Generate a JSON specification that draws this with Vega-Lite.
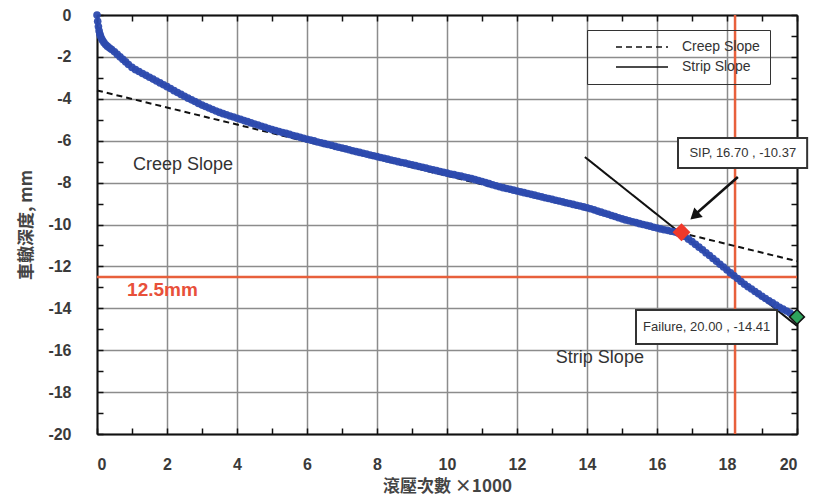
{
  "$schema": "https://vega.github.io/schema/vega-lite/v6.json",
  "width": 700,
  "height": 419,
  "autosize": "none",
  "padding": {"left": 97, "top": 15, "right": 17, "bottom": 62},
  "background": "white",
  "config": {
    "view": {"stroke": null},
    "axis": {
      "labelFont": "Liberation Sans",
      "labelFontWeight": "bold",
      "labelFontSize": 16,
      "labelColor": "#3a3a3a",
      "titleFont": "Noto Sans CJK TC",
      "titleFontWeight": "bold",
      "titleFontSize": 17,
      "titleColor": "#444444",
      "domainColor": "#111111",
      "domainWidth": 2,
      "tickColor": "#111111",
      "tickWidth": 1.5,
      "gridColor": "#8c8c8c",
      "gridWidth": 1.5
    }
  },
  "datasets": {
    "curve": [
      {"x":0,"y":0},{"x":0.02,"y":-0.3},{"x":0.04,"y":-0.55},{"x":0.06,"y":-0.75},{"x":0.08,"y":-0.9},{"x":0.1,"y":-1.0},{"x":0.13,"y":-1.12},{"x":0.16,"y":-1.22},{"x":0.2,"y":-1.32},{"x":0.25,"y":-1.42},{"x":0.3,"y":-1.5},{"x":0.36,"y":-1.58},{"x":0.42,"y":-1.65},{"x":0.5,"y":-1.76},{"x":0.58,"y":-1.88},{"x":0.66,"y":-2.0},{"x":0.74,"y":-2.12},{"x":0.82,"y":-2.24},{"x":0.9,"y":-2.36},{"x":1.0,"y":-2.5},
      {"x":1.1,"y":-2.61},{"x":1.2,"y":-2.7},{"x":1.3,"y":-2.79},{"x":1.4,"y":-2.88},{"x":1.5,"y":-2.97},{"x":1.6,"y":-3.06},{"x":1.7,"y":-3.15},{"x":1.8,"y":-3.24},{"x":1.9,"y":-3.33},{"x":2.0,"y":-3.42},
      {"x":2.1,"y":-3.51},{"x":2.2,"y":-3.61},{"x":2.3,"y":-3.7},{"x":2.4,"y":-3.79},{"x":2.5,"y":-3.88},{"x":2.6,"y":-3.97},{"x":2.7,"y":-4.05},{"x":2.8,"y":-4.13},{"x":2.9,"y":-4.22},{"x":3.0,"y":-4.3},
      {"x":3.1,"y":-4.37},{"x":3.2,"y":-4.44},{"x":3.3,"y":-4.51},{"x":3.4,"y":-4.58},{"x":3.5,"y":-4.65},{"x":3.6,"y":-4.71},{"x":3.7,"y":-4.76},{"x":3.8,"y":-4.82},{"x":3.9,"y":-4.87},{"x":4.0,"y":-4.93},
      {"x":4.1,"y":-4.98},{"x":4.2,"y":-5.04},{"x":4.3,"y":-5.09},{"x":4.4,"y":-5.15},{"x":4.5,"y":-5.2},{"x":4.6,"y":-5.25},{"x":4.7,"y":-5.31},{"x":4.8,"y":-5.36},{"x":4.9,"y":-5.42},{"x":5.0,"y":-5.47},
      {"x":5.1,"y":-5.51},{"x":5.2,"y":-5.56},{"x":5.3,"y":-5.61},{"x":5.4,"y":-5.65},{"x":5.5,"y":-5.7},{"x":5.6,"y":-5.75},{"x":5.7,"y":-5.79},{"x":5.8,"y":-5.84},{"x":5.9,"y":-5.88},{"x":6.0,"y":-5.93},
      {"x":6.1,"y":-5.97},{"x":6.2,"y":-6.01},{"x":6.3,"y":-6.06},{"x":6.4,"y":-6.1},{"x":6.5,"y":-6.14},{"x":6.6,"y":-6.18},{"x":6.7,"y":-6.22},{"x":6.8,"y":-6.27},{"x":6.9,"y":-6.31},{"x":7.0,"y":-6.35},
      {"x":7.1,"y":-6.39},{"x":7.2,"y":-6.43},{"x":7.3,"y":-6.48},{"x":7.4,"y":-6.52},{"x":7.5,"y":-6.56},{"x":7.6,"y":-6.6},{"x":7.7,"y":-6.64},{"x":7.8,"y":-6.68},{"x":7.9,"y":-6.72},{"x":8.0,"y":-6.76},
      {"x":8.1,"y":-6.8},{"x":8.2,"y":-6.84},{"x":8.3,"y":-6.88},{"x":8.4,"y":-6.92},{"x":8.5,"y":-6.96},{"x":8.6,"y":-7.0},{"x":8.7,"y":-7.04},{"x":8.8,"y":-7.07},{"x":8.9,"y":-7.11},{"x":9.0,"y":-7.15},
      {"x":9.1,"y":-7.19},{"x":9.2,"y":-7.23},{"x":9.3,"y":-7.27},{"x":9.4,"y":-7.31},{"x":9.5,"y":-7.35},{"x":9.6,"y":-7.39},{"x":9.7,"y":-7.43},{"x":9.8,"y":-7.47},{"x":9.9,"y":-7.51},{"x":10.0,"y":-7.55},
      {"x":10.1,"y":-7.59},{"x":10.2,"y":-7.62},{"x":10.3,"y":-7.66},{"x":10.4,"y":-7.69},{"x":10.5,"y":-7.73},{"x":10.6,"y":-7.77},{"x":10.7,"y":-7.81},{"x":10.8,"y":-7.86},{"x":10.9,"y":-7.9},{"x":11.0,"y":-7.95},
      {"x":11.1,"y":-8.0},{"x":11.2,"y":-8.05},{"x":11.3,"y":-8.1},{"x":11.4,"y":-8.15},{"x":11.5,"y":-8.2},{"x":11.6,"y":-8.24},{"x":11.7,"y":-8.28},{"x":11.8,"y":-8.32},{"x":11.9,"y":-8.36},{"x":12.0,"y":-8.4},
      {"x":12.1,"y":-8.44},{"x":12.2,"y":-8.48},{"x":12.3,"y":-8.52},{"x":12.4,"y":-8.56},{"x":12.5,"y":-8.6},{"x":12.6,"y":-8.64},{"x":12.7,"y":-8.68},{"x":12.8,"y":-8.72},{"x":12.9,"y":-8.76},{"x":13.0,"y":-8.8},
      {"x":13.1,"y":-8.84},{"x":13.2,"y":-8.88},{"x":13.3,"y":-8.92},{"x":13.4,"y":-8.96},{"x":13.5,"y":-9.0},{"x":13.6,"y":-9.04},{"x":13.7,"y":-9.08},{"x":13.8,"y":-9.12},{"x":13.9,"y":-9.16},{"x":14.0,"y":-9.2},
      {"x":14.1,"y":-9.25},{"x":14.2,"y":-9.3},{"x":14.3,"y":-9.36},{"x":14.4,"y":-9.41},{"x":14.5,"y":-9.46},{"x":14.6,"y":-9.51},{"x":14.7,"y":-9.57},{"x":14.8,"y":-9.62},{"x":14.9,"y":-9.68},{"x":15.0,"y":-9.73},
      {"x":15.1,"y":-9.78},{"x":15.2,"y":-9.82},{"x":15.3,"y":-9.87},{"x":15.4,"y":-9.91},{"x":15.5,"y":-9.96},{"x":15.6,"y":-10.0},{"x":15.7,"y":-10.04},{"x":15.8,"y":-10.08},{"x":15.9,"y":-10.13},{"x":16.0,"y":-10.17},
      {"x":16.1,"y":-10.21},{"x":16.2,"y":-10.25},{"x":16.3,"y":-10.28},{"x":16.4,"y":-10.32},{"x":16.5,"y":-10.35},{"x":16.6,"y":-10.4},{"x":16.7,"y":-10.45},{"x":16.8,"y":-10.57},{"x":16.9,"y":-10.7},{"x":17.0,"y":-10.82},
      {"x":17.1,"y":-10.95},{"x":17.2,"y":-11.08},{"x":17.3,"y":-11.21},{"x":17.4,"y":-11.35},{"x":17.5,"y":-11.48},{"x":17.6,"y":-11.62},{"x":17.7,"y":-11.76},{"x":17.8,"y":-11.9},{"x":17.9,"y":-12.03},{"x":18.0,"y":-12.17},
      {"x":18.1,"y":-12.31},{"x":18.2,"y":-12.45},{"x":18.3,"y":-12.58},{"x":18.4,"y":-12.72},{"x":18.5,"y":-12.85},{"x":18.6,"y":-12.97},{"x":18.7,"y":-13.08},{"x":18.8,"y":-13.2},{"x":18.9,"y":-13.31},{"x":19.0,"y":-13.43},
      {"x":19.1,"y":-13.53},{"x":19.2,"y":-13.64},{"x":19.3,"y":-13.74},{"x":19.4,"y":-13.85},{"x":19.5,"y":-13.95},{"x":19.6,"y":-14.04},{"x":19.7,"y":-14.13},{"x":19.8,"y":-14.23},{"x":19.9,"y":-14.32},{"x":20.0,"y":-14.41}
    ],
    "slopes": [
      {"series":"Creep Slope","x":0,"y":-3.6},
      {"series":"Creep Slope","x":20,"y":-11.75},
      {"series":"Strip Slope","x":13.94,"y":-6.78},
      {"series":"Strip Slope","x":20,"y":-14.84}
    ]
  },
  "layer": [
    {
      "data": {"values": [{"x": 18.23}]},
      "mark": {"type": "rule", "color": "#e8603c", "strokeWidth": 2.5},
      "encoding": {
        "x": {"field": "x", "type": "quantitative", "scale": {"domain": [0, 20], "nice": false}, "axis": null}
      }
    },
    {
      "data": {"values": [{"y": -12.5}]},
      "mark": {"type": "rule", "color": "#e8603c", "strokeWidth": 2.5},
      "encoding": {
        "y": {"field": "y", "type": "quantitative", "scale": {"domain": [-20, 0], "nice": false}, "axis": null}
      }
    },
    {
      "data": {"name": "slopes"},
      "mark": {"type": "line", "color": "#111111", "strokeWidth": 2},
      "encoding": {
        "x": {"field": "x", "type": "quantitative", "scale": {"domain": [0, 20], "nice": false},
          "axis": {"orient": "top", "values": [0,1,2,3,4,5,6,7,8,9,10,11,12,13,14,15,16,17,18,19,20], "labels": false, "tickSize": -6, "grid": false, "title": null}},
        "y": {"field": "y", "type": "quantitative", "scale": {"domain": [-20, 0], "nice": false},
          "axis": {"orient": "right", "values": [0,-1,-2,-3,-4,-5,-6,-7,-8,-9,-10,-11,-12,-13,-14,-15,-16,-17,-18,-19,-20], "labels": false, "tickSize": -6, "grid": false, "title": null}},
        "strokeDash": {
          "field": "series", "type": "nominal",
          "scale": {"domain": ["Creep Slope", "Strip Slope"], "range": [[6, 4], [1, 0]]},
          "legend": {
            "title": null, "orient": "none", "legendX": 490, "legendY": 15,
            "strokeColor": "#333333", "padding": 10, "symbolOffset": 38,
            "symbolType": "M-6.5,0H6.5", "symbolSize": 64, "symbolStrokeWidth": 1.6,
            "symbolStrokeColor": "#111111",
            "labelFont": "Liberation Sans", "labelFontSize": 14, "labelColor": "#333333",
            "labelOffset": 33, "rowPadding": 6
          }
        }
      }
    },
    {
      "data": {"name": "curve"},
      "mark": {"type": "point", "filled": true, "color": "#2c4aae", "size": 58, "opacity": 0.95},
      "encoding": {
        "x": {"field": "x", "type": "quantitative", "scale": {"domain": [0, 20], "nice": false},
          "axis": {"orient": "bottom", "values": [0,1,2,3,4,5,6,7,8,9,10,11,12,13,14,15,16,17,18,19,20],
            "labelExpr": "datum.value % 2 === 0 ? '' + datum.value : ''", "labelPadding": 28,
            "tickSize": -6, "grid": true,
            "gridOpacity": {"condition": {"test": "datum.value % 2 === 0", "value": 1}, "value": 0},
            "title": "滾壓次數 ×1000", "titlePadding": 6}},
        "y": {"field": "y", "type": "quantitative", "scale": {"domain": [-20, 0], "nice": false},
          "axis": {"orient": "left", "values": [0,-1,-2,-3,-4,-5,-6,-7,-8,-9,-10,-11,-12,-13,-14,-15,-16,-17,-18,-19,-20],
            "labelExpr": "datum.value % 2 === 0 ? '' + datum.value : ''", "labelPadding": 32,
            "tickSize": -6, "grid": true,
            "gridOpacity": {"condition": {"test": "datum.value % 2 === 0", "value": 1}, "value": 0},
            "title": "車轍深度, mm", "titlePadding": 12}}
      }
    },
    {
      "data": {"values": [{"x1": 18.31, "y1": -7.73, "x2": 17.14, "y2": -9.45}]},
      "mark": {"type": "rule", "color": "#111111", "strokeWidth": 2.5},
      "encoding": {
        "x": {"field": "x1", "type": "quantitative", "axis": null},
        "y": {"field": "y1", "type": "quantitative", "axis": null},
        "x2": {"field": "x2"},
        "y2": {"field": "y2"}
      }
    },
    {
      "data": {"values": [{"x": 17.07, "y": -9.59}]},
      "mark": {"type": "point", "shape": "triangle-up", "filled": true, "color": "#111111", "size": 160, "angle": 228, "opacity": 1},
      "encoding": {
        "x": {"field": "x", "type": "quantitative", "axis": null},
        "y": {"field": "y", "type": "quantitative", "axis": null}
      }
    },
    {
      "data": {"values": [{"x": 16.7, "y": -10.37}]},
      "mark": {"type": "point", "shape": "diamond", "filled": true, "color": "#f0392b", "size": 320, "opacity": 1},
      "encoding": {
        "x": {"field": "x", "type": "quantitative", "axis": null},
        "y": {"field": "y", "type": "quantitative", "axis": null}
      }
    },
    {
      "data": {"values": [{"x": 20, "y": -14.41}]},
      "mark": {"type": "point", "shape": "diamond", "filled": true, "fill": "#2ea35c", "stroke": "#111111", "strokeWidth": 1.5, "size": 220, "opacity": 1},
      "encoding": {
        "x": {"field": "x", "type": "quantitative", "axis": null},
        "y": {"field": "y", "type": "quantitative", "axis": null}
      }
    },
    {
      "data": {"values": [
        {"label": "SIP, 16.70 , -10.37", "xa": 16.6, "xb": 20.29, "ya": -5.87, "yb": -7.3},
        {"label": "Failure, 20.00 , -14.41", "xa": 15.4, "xb": 19.43, "ya": -14.08, "yb": -15.7}
      ]},
      "mark": {"type": "rect", "fill": "white", "stroke": "#333333", "strokeWidth": 2},
      "encoding": {
        "x": {"field": "xa", "type": "quantitative", "axis": null},
        "x2": {"field": "xb"},
        "y": {"field": "ya", "type": "quantitative", "axis": null},
        "y2": {"field": "yb"}
      }
    },
    {
      "data": {"values": [
        {"label": "SIP, 16.70 , -10.37", "x": 18.45, "y": -6.6},
        {"label": "Failure, 20.00 , -14.41", "x": 17.42, "y": -14.9}
      ]},
      "mark": {"type": "text", "font": "Liberation Sans", "fontSize": 13, "color": "#333333", "align": "center", "baseline": "middle"},
      "encoding": {
        "x": {"field": "x", "type": "quantitative", "axis": null},
        "y": {"field": "y", "type": "quantitative", "axis": null},
        "text": {"field": "label"}
      }
    },
    {
      "data": {"values": [
        {"label": "Creep Slope", "x": 1.03, "y": -7.16},
        {"label": "Strip Slope", "x": 13.11, "y": -16.37}
      ]},
      "mark": {"type": "text", "font": "Liberation Sans", "fontSize": 18, "color": "#333333", "align": "left", "baseline": "middle"},
      "encoding": {
        "x": {"field": "x", "type": "quantitative", "axis": null},
        "y": {"field": "y", "type": "quantitative", "axis": null},
        "text": {"field": "label"}
      }
    },
    {
      "data": {"values": [{"label": "12.5mm", "x": 0.86, "y": -13.13}]},
      "mark": {"type": "text", "font": "Liberation Sans", "fontSize": 19, "fontWeight": "bold", "color": "#e8503a", "align": "left", "baseline": "middle"},
      "encoding": {
        "x": {"field": "x", "type": "quantitative", "axis": null},
        "y": {"field": "y", "type": "quantitative", "axis": null},
        "text": {"field": "label"}
      }
    }
  ],
  "resolve": {"axis": {"x": "independent", "y": "independent"}}
}
